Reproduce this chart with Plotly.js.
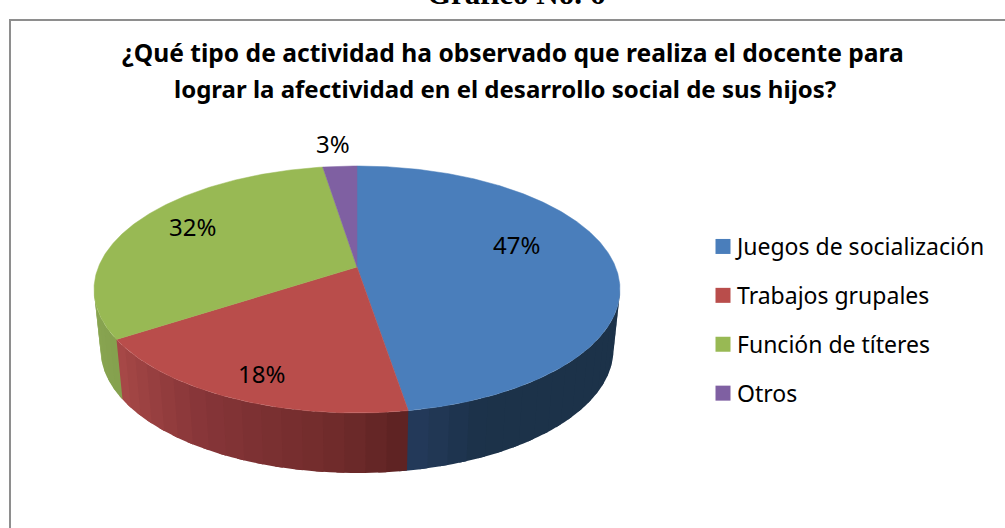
<!DOCTYPE html>
<html><head><meta charset="utf-8">
<script src="https://cdn.plot.ly/plotly-3.0.1.min.js"></script>
<style>html,body{margin:0;padding:0;background:#fff;overflow:hidden}#c{width:1005px;height:528px}</style>
</head><body><div id="c"></div>
<script>
// DATA
const categories = ["Juegos de socialización", "Trabajos grupales", "Función de títeres", "Otros"];
const shares = [47.4, 18.4, 31.7, 2.5];
const titleLines = ["¿Qué tipo de actividad ha observado que realiza el docente para", "lograr la afectividad en el desarrollo social de sus hijos?"];
const caption = "Gráfico No. 6";

// STYLE
const topColors = ["#4a7ebb", "#b94d4b", "#98b954", "#7f60a2"];
const sideStops = [
  [[0, "#1c3249"], [0.8, "#1c3249"], [1, "#243a5c"]],
  [[0, "#5c2222"], [0.2, "#702b2b"], [0.6, "#863538"], [1, "#a84a48"]],
  [[0, "#84a04e"], [1, "#8aa652"]],
  [[0, "#7f60a2"], [1, "#7f60a2"]]
];
const labelXY = [[516, 244], [261, 373], [192, 226], [333, 143]];
const titleXY = [[513, 52], [505, 88]];
const titleSizes = [24.6, 24];
const geo = {cx: 357, cy: 267, a: 258.6, b: 119.4, k: 0.182, depth: 60, shrink: 0.975};
const rad = d => d * Math.PI / 180;
const topPt = t => {
  const w = 1 + geo.k * Math.cos(rad(t));
  return [geo.cx + geo.a * Math.sin(rad(t)) / w, geo.cy - geo.b * Math.cos(rad(t)) / w];
};
const botPt = t => {
  const p = topPt(t);
  return [geo.cx + (p[0] - geo.cx) * geo.shrink, p[1] + geo.depth];
};
const hex = c => [1, 3, 5].map(i => parseInt(c.substr(i, 2), 16));
const mix = (stops, f) => {
  for (let i = 1; i < stops.length; i++) {
    if (f <= stops[i][0]) {
      const u = (f - stops[i - 1][0]) / (stops[i][0] - stops[i - 1][0]);
      const A = hex(stops[i - 1][1]), B = hex(stops[i][1]);
      return "rgb(" + A.map((v, j) => Math.round(v + (B[j] - v) * u)).join(",") + ")";
    }
  }
  return stops[stops.length - 1][1];
};

// slice angle spans come from the values
const total = shares.reduce((s, v) => s + v, 0);
let run = 0;
const spans = shares.map(v => { const s = [run, run + v / total * 360]; run = s[1]; return s; });

const traces = [];
// legend entries
categories.forEach((name, i) => traces.push({
  type: "scatter", mode: "markers", x: [null], y: [null], name,
  legendgroup: "g" + i, showlegend: true,
  marker: {symbol: "square", size: 15, color: topColors[i]}, hoverinfo: "skip"
}));
// extruded rim, visible from 100° to 260°; each strip overlaps the next to hide seams
spans.forEach((sp, i) => {
  const from = Math.max(sp[0], 100), to = Math.min(sp[1], 260);
  if (to <= from) return;
  const n = Math.max(1, Math.round((to - from) / 4));
  for (let j = 0; j < n; j++) {
    const t0 = from + (to - from) * j / n;
    const t1 = Math.min(from + (to - from) * (j + 1) / n + 1.5, 260);
    const xs = [], ys = [];
    for (let q = 0; q <= 4; q++) { const p = topPt(t0 + (t1 - t0) * q / 4); xs.push(p[0]); ys.push(p[1]); }
    for (let q = 4; q >= 0; q--) { const p = botPt(t0 + (t1 - t0) * q / 4); xs.push(p[0]); ys.push(p[1]); }
    traces.push({type: "scatter", mode: "none", x: xs, y: ys, fill: "toself",
      fillcolor: mix(sideStops[i], (j + 0.5) / n), showlegend: false, hoverinfo: "skip"});
  }
});
// top faces
spans.forEach((sp, i) => {
  const xs = [geo.cx], ys = [geo.cy];
  const n = Math.ceil(sp[1] - sp[0]) * 2;
  for (let j = 0; j <= n; j++) { const p = topPt(sp[0] + (sp[1] - sp[0]) * j / n); xs.push(p[0]); ys.push(p[1]); }
  xs.push(geo.cx); ys.push(geo.cy);
  traces.push({type: "scatter", mode: "lines", x: xs, y: ys, fill: "toself", fillcolor: topColors[i],
    line: {color: topColors[i], width: 0.5}, showlegend: false, name: categories[i],
    text: Math.round(shares[i]) + "%", hoverinfo: "name+text"});
});

const font = "'Noto Sans', sans-serif";
const annotations = shares.map((v, i) => ({
  x: labelXY[i][0], y: labelXY[i][1], xref: "x", yref: "y", showarrow: false,
  text: Math.round(v) + "%", font: {family: font, size: 24, color: "#000"}
}));
annotations.push({x: 516 / 1005, y: 1, xref: "paper", yref: "paper", yanchor: "bottom", yshift: -13, showarrow: false,
  text: "<b>" + caption + "</b>", font: {family: "'Liberation Serif', serif", size: 31, color: "#000"}});
titleLines.forEach((line, i) => annotations.push({x: titleXY[i][0], y: titleXY[i][1], xref: "x", yref: "y",
  showarrow: false, text: "<b>" + line + "</b>", font: {family: font, size: titleSizes[i], color: "#000"}}));

const layout = {
  width: 1005, height: 528, margin: {l: 0, r: 0, t: 0, b: 0},
  paper_bgcolor: "#fff", plot_bgcolor: "#fff",
  xaxis: {range: [0, 1005], visible: false, fixedrange: true},
  yaxis: {range: [528, 0], visible: false, fixedrange: true},
  showlegend: true, hovermode: "closest",
  legend: {x: 697 / 1005, y: 1 - 225 / 528, xanchor: "left", yanchor: "top", tracegroupgap: 16,
    font: {family: font, size: 23, color: "#000"}, bgcolor: "rgba(0,0,0,0)"},
  annotations,
  shapes: [{type: "rect", xref: "x", yref: "y", x0: 10, y0: 20, x1: 1010, y1: 535,
    line: {color: "#8e8e8e", width: 2}, layer: "below"}]
};
Plotly.newPlot("c", traces, layout, {displayModeBar: false}).then(() => {
  document.querySelectorAll(".legend .legendpoints path").forEach(p => p.setAttribute("transform", "translate(26,0)"));
});
</script></body></html>
